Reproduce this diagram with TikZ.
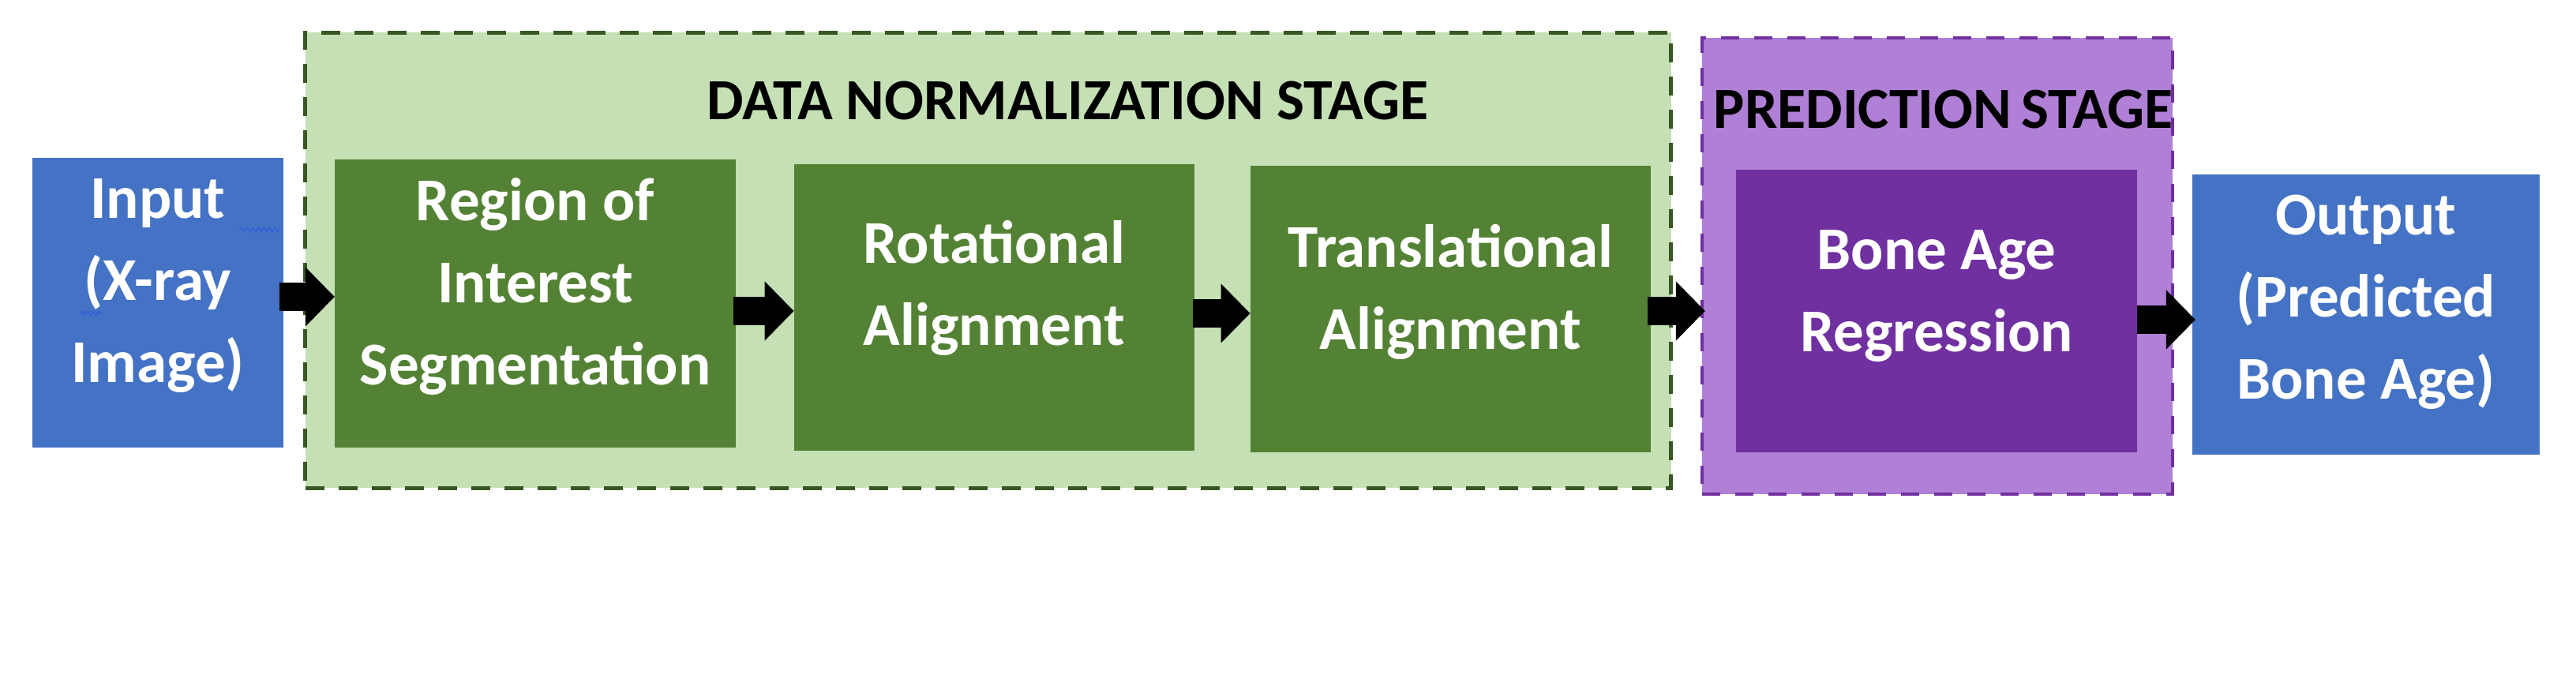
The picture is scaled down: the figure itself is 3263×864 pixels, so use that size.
\documentclass[tikz,border=0pt]{standalone}
\usepackage{fontspec}
\setmainfont{Carlito}
\usetikzlibrary{arrows.meta,decorations.pathmorphing}
\definecolor{blu}{HTML}{4472C4}
\definecolor{dgreen}{HTML}{548235}
\definecolor{lgreen}{HTML}{C5E0B4}
\definecolor{bgreen}{HTML}{385723}
\definecolor{dpurp}{HTML}{7030A0}
\definecolor{lpurp}{HTML}{B07FD6}
\definecolor{squig}{HTML}{2F5BE0}
\begin{document}
\begin{tikzpicture}[x=0.01cm,y=-0.01cm,
  box/.style={draw=none,inner sep=0pt,outer sep=0pt},
  stage/.style={inner sep=0pt,outer sep=0pt},
  lbl/.style={text=white,align=center,inner sep=0pt,
    font=\fontsize{21.9pt}{29.6pt}\selectfont\bfseries},
  ttl/.style={text=black,inner sep=0pt,
    font=\fontsize{21pt}{25pt}\selectfont\bfseries},
  barrow/.style={draw=black,line width=0.35cm,
    -{Triangle[length=0.37cm,width=0.73cm]}},
  wavy/.style={draw=squig,line width=0.012cm,decorate,
    decoration={snake,amplitude=0.025cm,segment length=0.07cm}}]
\useasboundingbox (0,0) rectangle (3263,864);
\fill[white] (0,0) rectangle (3263,864);
% stage containers
\node[stage,fill=lgreen,draw=bgreen,line width=0.05cm,dash pattern=on 0.24cm off 0.18cm,
  minimum width=17.29cm,minimum height=5.765cm] (norm) at (1251.5,329.8) {};
\node[stage,fill=lpurp,draw=dpurp,line width=0.04cm,dash pattern=on 0.23cm off 0.19cm,
  minimum width=5.956cm,minimum height=5.775cm] (pred) at (2453.8,337.3) {};
% stage titles
\node[ttl,anchor=base west] (normt) at (895,152) {DATA NORMALIZATION STAGE};
\node[ttl,anchor=base west] (predt) at (2170,162.5) {PREDICTION\hspace{-0.06em} STAGE};
% boxes
\node[box,fill=blu,minimum width=3.183cm,minimum height=3.67cm] (inp) at (199.9,383.5) {};
\node[box,fill=dgreen,minimum width=5.08cm,minimum height=3.65cm] (roi) at (678,384.5) {};
\node[box,fill=dgreen,minimum width=5.073cm,minimum height=3.63cm] (rot) at (1259.4,389.2) {};
\node[box,fill=dgreen,minimum width=5.073cm,minimum height=3.63cm] (tra) at (1837.4,391.5) {};
\node[box,fill=dpurp,minimum width=5.08cm,minimum height=3.574cm] (bone) at (2453,394.3) {};
\node[box,fill=blu,minimum width=4.396cm,minimum height=3.545cm] (out) at (2996.8,398.3) {};
% texts (anchor base = baseline of the last line)
\node[lbl,anchor=base] (inpt) at (inp.center |- 0,485) {Input\\(X-ray\\Image)};
\node[lbl,anchor=base] (roit) at (roi.center |- 0,488) {Region of\\Interest\\Segmentation};
\node[lbl,anchor=base] (rott) at (rot.center |- 0,438) {Rotational\\Alignment};
\node[lbl,anchor=base] (trat) at (tra.center |- 0,443) {Translational\\Alignment};
\node[lbl,anchor=base] (bonet) at (bone.center |- 0,445.7) {Bone Age\\Regression};
\node[lbl,anchor=base] (outt) at (out.center |- 0,506) {Output\\(Predicted\\Bone Age)};
% spell-check squiggles
\coordinate (sq1a) at (304,291); \coordinate (sq1b) at (354,291);
\coordinate (sq2a) at (102,397); \coordinate (sq2b) at (129,397);
\draw[wavy] (sq1a) -- (sq1b);
\draw[wavy] (sq2a) -- (sq2b);
% arrows
\draw[barrow] ([xshift=-0.05cm]inp.east |- 0,376) -- (roi.west |- 0,376);
\draw[barrow] ([xshift=-0.03cm]roi.east |- 0,394) -- (rot.west |- 0,394);
\draw[barrow] ([xshift=-0.02cm]rot.east |- 0,397) -- (tra.west |- 0,397);
\draw[barrow] ([xshift=-0.04cm]tra.east |- 0,394) -- ([xshift=0.04cm]pred.west |- 0,394);
\draw[barrow] (bone.east |- 0,405) -- ([xshift=0.04cm]out.west |- 0,405);
\end{tikzpicture}
\end{document}
